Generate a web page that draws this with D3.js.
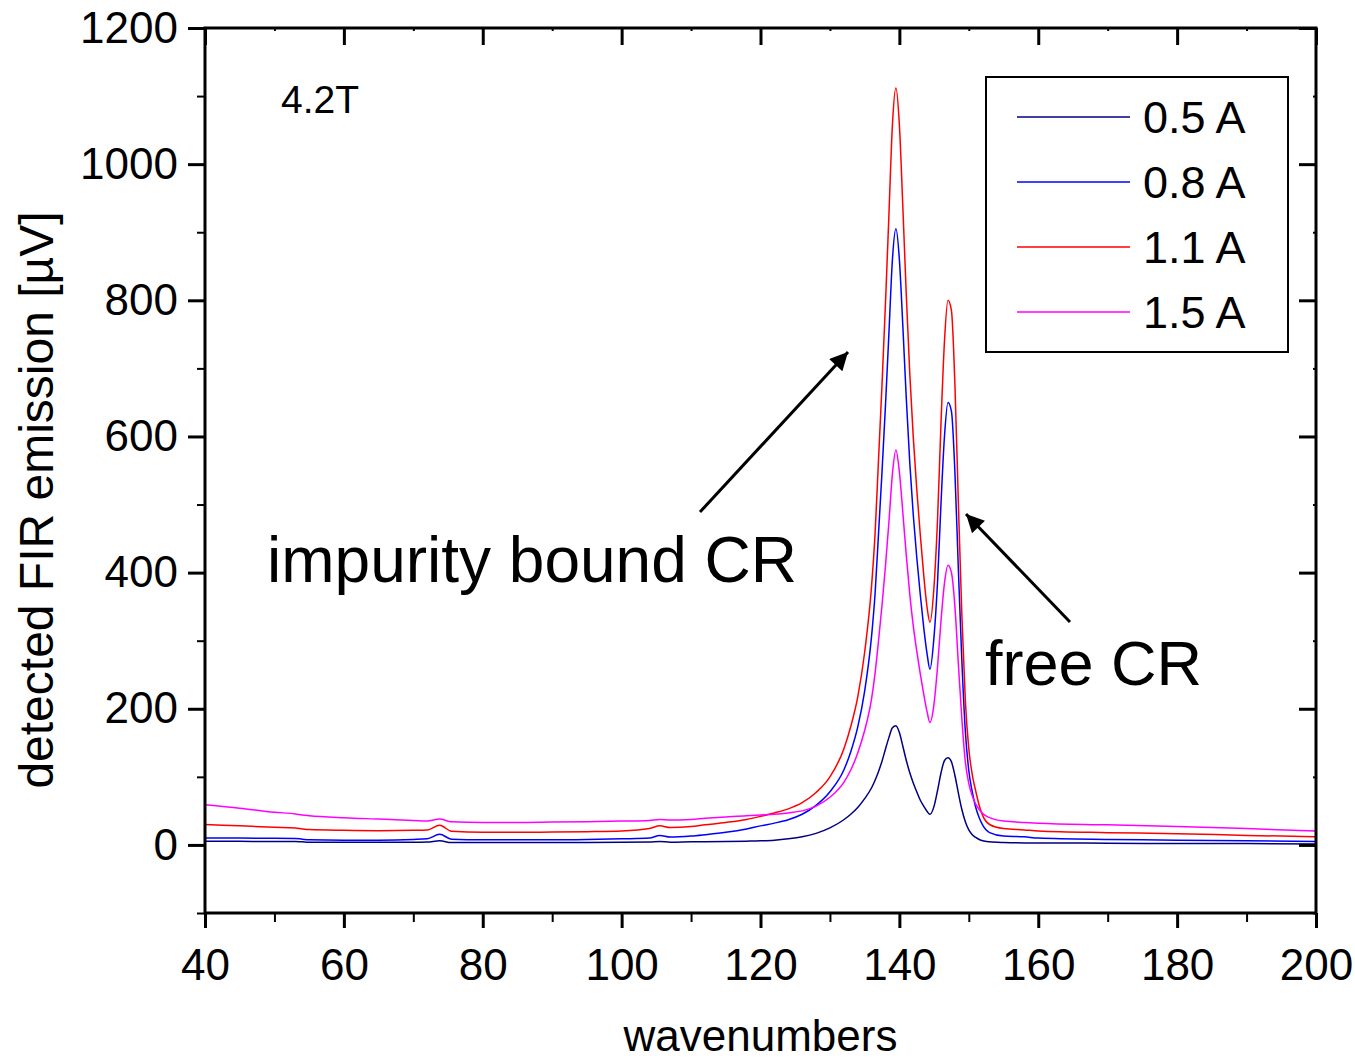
<!DOCTYPE html>
<meta charset="utf-8">
<head>
  <title>FIR emission 4.2T</title>
</head>

<style>
body {
  margin: 0;
  background: #fff;
}
svg text {
  font-family: "Liberation Sans", Arial, Helvetica, sans-serif;
  fill: #000;
}
.axis path { display: none; }
.axis line { stroke: #000; stroke-width: 3; }
.axis.minor line { stroke-width: 2; }
.axis text { font-size: 44px; }
.series { fill: none; stroke-width: 1.5; }
</style>

<body>
  <svg width="1355" height="1059"></svg>

  <script src="https://cdnjs.cloudflare.com/ajax/libs/d3/7.8.5/d3.min.js"></script>

  <script>
  // wavenumber grid shared by all four traces
  var wavenumbers = [40, 45, 50, 53, 54, 55, 60, 65, 70, 72, 73.8, 75.5, 80, 85, 90, 95, 100, 104, 105.5, 107, 110, 112, 115, 118,
    120, 122, 124, 126, 128, 130, 132, 133, 134, 135, 136, 136.5, 137, 137.5, 138, 138.5, 139, 139.5,
    140, 140.5, 141, 141.5, 142, 142.5, 143, 143.5, 144, 144.4, 145, 145.5, 146, 146.5, 147, 147.5,
    148, 148.5, 149, 149.5, 150, 150.5, 151, 151.5, 152, 153, 155, 158, 160, 170, 180, 190, 200];

  var current05 = [5.5, 5.3, 5, 5, 4.5, 4, 4, 4, 4, 4.3, 6, 3.5, 3.5, 3.5, 3.5, 3.7, 4, 4.3, 5, 4, 4.5, 4.7, 5, 5.5,
    6, 7, 9, 12, 17, 25, 37, 45, 55, 68, 84, 95, 108, 123, 141, 158, 172, 175,
    165, 145, 124, 106, 91, 78, 66, 57, 49, 45, 57, 80, 106, 124, 128, 122,
    102, 76, 52, 34, 22, 15, 11, 8, 6, 4.5, 3.5, 3, 3, 2.5, 2, 2, 1.5];

  var current08 = [10, 10, 9.7, 9.5, 8.5, 7.5, 7, 7, 8, 9, 15.5, 8.5, 7.5, 7.5, 7.5, 8, 9, 10, 14, 11.5, 13, 15, 18.5, 23.5,
    28, 32, 37, 45, 58, 78, 110, 137, 173, 226, 307, 369, 458, 548, 646, 753, 860, 905,
    860, 762, 655, 561, 485, 423, 369, 320, 280, 258, 307, 387, 503, 601, 650, 637,
    547, 404, 270, 167, 109, 78, 55, 40, 29, 18, 13, 12, 10, 8, 7, 6, 5];

  var current11 = [30, 28, 26, 25, 23.5, 22.5, 21.5, 21, 21.5, 22, 29, 20, 18.5, 18.5, 19, 19.5, 20.5, 24, 28, 25.5, 27, 29.5, 33, 37.5,
    42, 47, 53, 62, 77, 100, 141, 174, 217, 283, 381, 457, 567, 676, 796, 927, 1058, 1112,
    1058, 937, 807, 692, 599, 523, 457, 397, 348, 327, 381, 479, 621, 741, 800, 785,
    676, 501, 337, 212, 141, 103, 79, 58, 43, 30, 24, 22, 20.5, 18, 16.5, 14, 12];

  var current15 = [59, 54, 48, 45.5, 44, 43, 40, 38, 36, 35, 38, 34, 33, 33, 33.5, 34, 35, 36, 37.5, 36.5, 37.5, 39, 41, 43,
    44, 45, 47, 50, 57, 70, 92, 110, 135, 168, 215, 252, 300, 352, 410, 475, 545, 580,
    548, 488, 425, 368, 322, 285, 252, 222, 195, 180, 208, 262, 330, 385, 411, 400,
    350, 265, 185, 122, 90, 72, 60, 52, 46, 40, 35, 33, 32, 29.5, 27, 24, 20.5];

  var seriesNames = ['0.5 A', '0.8 A', '1.1 A', '1.5 A'];
  var seriesColors = ['#000080', '#0000ff', '#ff0000', '#ff00ff'];
  var seriesValues = [current05, current08, current11, current15];

  var xTicks = [40, 60, 80, 100, 120, 140, 160, 180, 200];
  var xMinor = [50, 70, 90, 110, 130, 150, 170, 190];
  var yTicks = [0, 200, 400, 600, 800, 1000, 1200];
  var yMinor = [-100, 100, 300, 500, 700, 900, 1100];

  var svg = d3.select('svg');

  var x = d3.scaleLinear().domain([40, 200]).range([205, 1316]);
  var y = d3.scaleLinear().domain([-100, 1200]).range([913, 28]);

  svg.append('clipPath').attr('id', 'plotclip')
    .append('rect')
    .attr('x', x(40)).attr('y', y(1200))
    .attr('width', x(200) - x(40)).attr('height', y(-100) - y(1200));

  // traces
  var line = d3.line()
    .x(function(d) { return x(d[0]); })
    .y(function(d) { return y(d[1]); })
    .curve(d3.curveMonotoneX);

  svg.append('g')
    .attr('clip-path', 'url(#plotclip)')
    .selectAll('path')
    .data(seriesValues)
    .enter()
    .append('path')
    .attr('class', 'series')
    .attr('stroke', function(d, i) { return seriesColors[i]; })
    .attr('d', function(d) {
      return line(wavenumbers.map(function(w, j) { return [w, d[j]]; }));
    });

  // axes
  var fmt = d3.format('d');

  svg.append('g').attr('class', 'axis')
    .attr('transform', 'translate(0,' + y(-100) + ')')
    .call(d3.axisBottom(x).tickValues(xTicks).tickFormat(fmt).tickSize(15).tickPadding(21).tickSizeOuter(0));
  svg.append('g').attr('class', 'axis minor')
    .attr('transform', 'translate(0,' + y(-100) + ')')
    .call(d3.axisBottom(x).tickValues(xMinor).tickSize(9).tickFormat('').tickSizeOuter(0));

  svg.append('g').attr('class', 'axis')
    .attr('transform', 'translate(' + x(40) + ',0)')
    .call(d3.axisLeft(y).tickValues(yTicks).tickFormat(fmt).tickSize(17).tickPadding(10).tickSizeOuter(0));
  svg.append('g').attr('class', 'axis minor')
    .attr('transform', 'translate(' + x(40) + ',0)')
    .call(d3.axisLeft(y).tickValues(yMinor).tickSize(8).tickFormat('').tickSizeOuter(0));

  svg.append('g').attr('class', 'axis')
    .attr('transform', 'translate(0,' + y(1200) + ')')
    .call(d3.axisTop(x).tickValues(xTicks).tickSize(-17).tickFormat('').tickSizeOuter(0));
  svg.append('g').attr('class', 'axis minor')
    .attr('transform', 'translate(0,' + y(1200) + ')')
    .call(d3.axisTop(x).tickValues(xMinor).tickSize(-3).tickFormat('').tickSizeOuter(0));

  svg.append('g').attr('class', 'axis')
    .attr('transform', 'translate(' + x(200) + ',0)')
    .call(d3.axisRight(y).tickValues(yTicks).tickSize(-17).tickFormat('').tickSizeOuter(0));
  svg.append('g').attr('class', 'axis minor')
    .attr('transform', 'translate(' + x(200) + ',0)')
    .call(d3.axisRight(y).tickValues(yMinor).tickSize(-3).tickFormat('').tickSizeOuter(0));

  svg.append('rect')
    .attr('x', x(40)).attr('y', y(1200))
    .attr('width', x(200) - x(40)).attr('height', y(-100) - y(1200))
    .attr('fill', 'none').attr('stroke', '#000').attr('stroke-width', 3);

  // axis titles
  svg.append('text')
    .attr('x', (x(40) + x(200)) / 2).attr('y', 1051)
    .attr('text-anchor', 'middle')
    .style('font-size', '44px')
    .text('wavenumbers');

  svg.append('text')
    .attr('transform', 'translate(53,500) rotate(-90)')
    .attr('text-anchor', 'middle')
    .style('font-size', '48px')
    .text('detected FIR emission [\u00b5V]');

  // legend
  var legend = svg.append('g');
  legend.append('rect')
    .attr('x', 986).attr('y', 77).attr('width', 302).attr('height', 275)
    .attr('fill', '#fff').attr('stroke', '#000').attr('stroke-width', 2);

  var items = legend.selectAll('g.item')
    .data(seriesNames)
    .enter()
    .append('g')
    .attr('class', 'item')
    .attr('transform', function(d, i) { return 'translate(0,' + (117 + i * 65) + ')'; });
  items.append('line')
    .attr('x1', 1017).attr('x2', 1130)
    .attr('stroke', function(d, i) { return seriesColors[i]; })
    .attr('stroke-width', 1.5);
  items.append('text')
    .attr('x', 1143).attr('y', 16)
    .style('font-size', '45px')
    .text(function(d) { return d; });

  // annotations
  svg.append('text')
    .attr('x', 281).attr('y', 113)
    .style('font-size', '39px')
    .text('4.2T');

  svg.append('text')
    .attr('x', 267).attr('y', 582)
    .style('font-size', '64px')
    .text('impurity bound CR');

  svg.append('text')
    .attr('x', 985).attr('y', 685)
    .style('font-size', '63px')
    .text('free CR');

  svg.append('defs').append('marker')
    .attr('id', 'head')
    .attr('viewBox', '0 0 10 10')
    .attr('refX', 10).attr('refY', 5)
    .attr('markerWidth', 7).attr('markerHeight', 6)
    .attr('markerUnits', 'strokeWidth')
    .attr('orient', 'auto')
    .append('path')
    .attr('d', 'M0,0L10,5L0,10Z')
    .attr('fill', '#000');

  var arrows = [
    { from: [700, 512], to: [848, 352] },
    { from: [1070, 622], to: [966, 514] }
  ];
  svg.selectAll('line.arrow')
    .data(arrows)
    .enter()
    .append('line')
    .attr('class', 'arrow')
    .attr('x1', function(d) { return d.from[0]; })
    .attr('y1', function(d) { return d.from[1]; })
    .attr('x2', function(d) { return d.to[0]; })
    .attr('y2', function(d) { return d.to[1]; })
    .attr('stroke', '#000')
    .attr('stroke-width', 3)
    .attr('marker-end', 'url(#head)');
  </script>
</body>
</html>
